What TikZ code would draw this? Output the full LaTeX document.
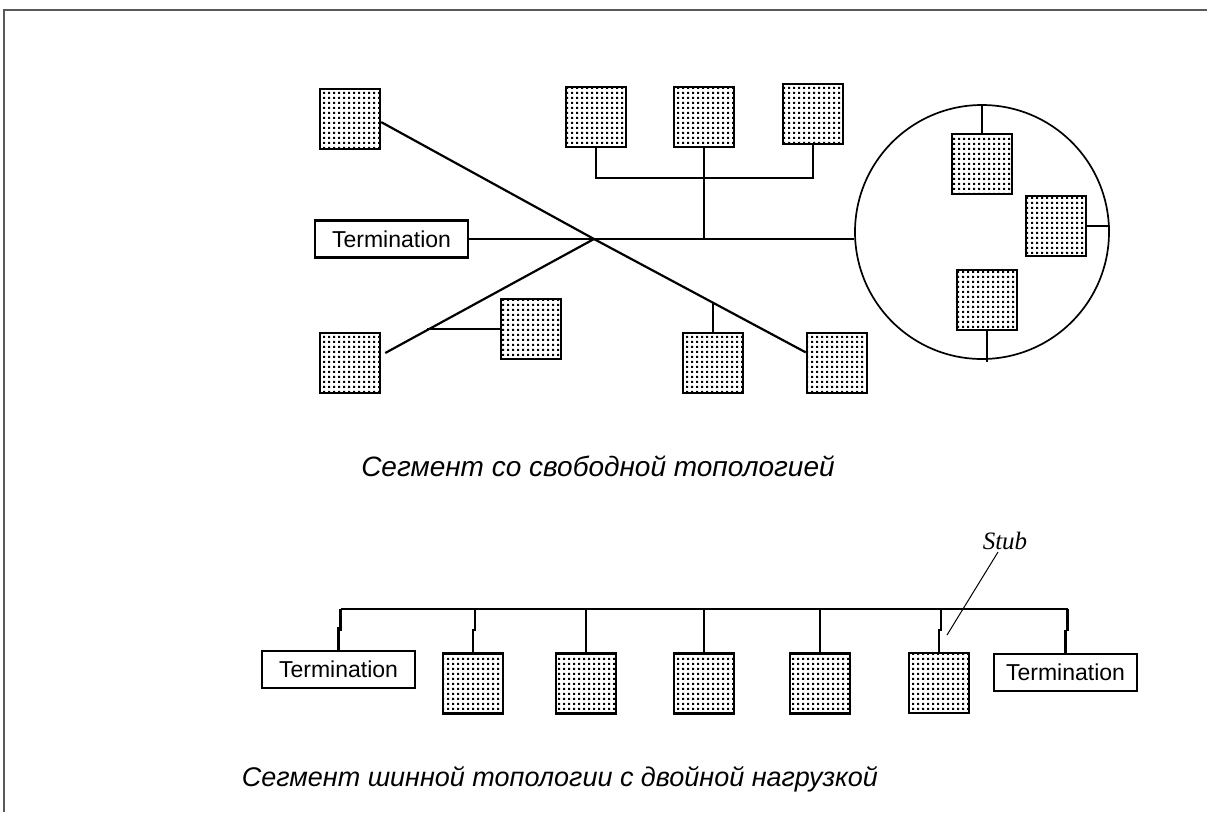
\documentclass[tikz,border=0pt]{standalone}
\usepackage{fontspec}
\setmainfont{Liberation Sans}
\newfontfamily\capfont{Liberation Sans}
\newfontfamily\labfont{Liberation Serif}
\usetikzlibrary{patterns.meta,calc}

% fine square dot screen used inside the station boxes
\tikzdeclarepattern{
  name=pixdots,
  type=uncolored,
  bottom left={(0pt,0pt)},
  top right={(4.6pt,4.6pt)},
  tile size={(4.6pt,4.6pt)},
  code={
    \tikzset{x=1pt,y=1pt}
    \fill (1.3,1.3) rectangle (3.4,3.4);
  }
}

\tikzset{
  wire/.style={line width=2.2pt},
  station/.style={draw, line width=2.5pt, pattern={pixdots}, pattern color=black,
    minimum width=60pt, minimum height=60pt, inner sep=0pt},
  termbox/.style={draw, line width=2.1pt, font=\fontsize{23}{25}\selectfont,
    minimum height=37pt, inner sep=0pt},
  caption/.style={font=\capfont\itshape\fontsize{27}{30}\selectfont},
}

\begin{document}
\begin{tikzpicture}[x=1pt,y=-1pt]
\useasboundingbox (0,0) rectangle (1207,812);

% page frame
\draw[line width=2pt, black!65] (1207,10) -- (4,10) -- (4,812);

% ---------- free topology segment ----------
\node[station] (s1) at (350,119) {};
\node[termbox, minimum width=153pt] (t1) at (391.5,239) {Termination};
\node[station] (s2) at (596,117) {};
\node[station] (s3) at (704,117) {};
\node[station] (s4) at (813,114) {};
\node[draw, circle, line width=1.7pt, minimum size=254pt, inner sep=0pt] (ring) at (982,232) {};
\node[station] (sA) at (982,164) {};
\node[station] (sB) at (1056,226) {};
\node[station] (sC) at (987,300) {};
\node[station] (sD) at (350,363) {};
\node[station] (sE) at (531,329) {};
\node[station] (sF) at (713,363) {};
\node[station] (sG) at (837,363) {};

\coordinate (hub) at (594,239);
\coordinate (br) at (706,178);
\coordinate (cbot) at (987,362);
\coordinate (gEnd) at ($(sG.north west)!0.33!(sG.south west)$);
\coordinate (dStart) at ([shift={(4,-10)}]sD.east);
\coordinate (tapD) at ($(dStart)!0.2!(hub)$);
\coordinate (tapF) at ($(hub)!0.5587!(gEnd)$);

% main cable through the hub to the ring
\draw[wire] (t1.east) -- (t1.east -| ring.west);
% crossing cables
\draw[wire] ($(s1.north east)!0.55!(s1.south east)$) -- (hub) -- (gEnd);
\draw[wire] (dStart) -- (hub);
% branches
\draw[wire] (sE.west) -- (sE.west -| tapD);
\draw[wire] (sF.north) -- (sF.north |- tapF);
\draw[wire] (s2.south) |- (br) -| (s4.south);
\draw[wire] (s3.south) -- (s3.south |- hub);
% stations on the ring
\draw[wire] (sA.north) -- (sA.north |- ring.north);
\draw[wire] (sB.east) -- (sB.east -| ring.east);
\draw[wire] (sC.south) -- (cbot);

\node[caption, font=\capfont\itshape\fontsize{28}{31}\selectfont] (cap1) at (598,466) {Сегмент со свободной топологией};

% ---------- bus segment with two terminations ----------
\coordinate (bus) at (0,609);
\node[termbox, minimum width=153pt] (tL) at (338.5,669.5) {Termination};
\node[station] (b1) at (473,683.5) {};
\node[station] (b2) at (586,683.5) {};
\node[station] (b3) at (704,683.5) {};
\node[station] (b4) at (820,683.5) {};
\node[station] (b5) at (939,683) {};
\node[termbox, minimum width=143pt] (tR) at (1065.5,672.5) {Termination};

\draw[wire] ([xshift=2pt]tL.north |- bus) -- ([xshift=2pt]tR.north |- bus);
\foreach \n in {tL,b1,b5,tR}{
  \draw[wire] (\n.north) -- ++(0,-23);
  \draw[wire] ([xshift=2pt]\n.north |- bus) -- ++(0,22);
}
\foreach \n in {b2,b3,b4}{
  \draw[wire] (\n.north) -- (\n.north |- bus);
}

\node[font=\labfont\itshape\fontsize{25}{27}\selectfont, inner sep=2pt] (stub) at (1005,541) {Stub};
\coordinate (stubtip) at (947,635);
\draw[line width=1pt] ([xshift=-7pt]stub.south) -- (stubtip);

\node[caption] (cap2) at (560,779) {Сегмент шинной топологии с двойной нагрузкой};
\end{tikzpicture}
\end{document}
